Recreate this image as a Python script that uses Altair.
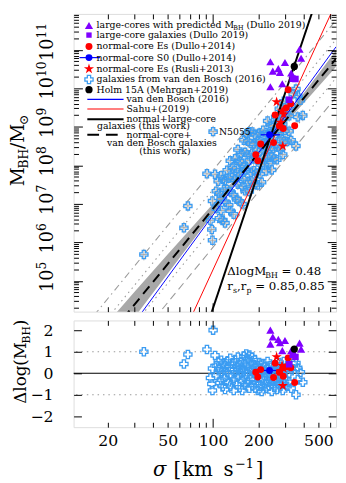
import math
import altair as alt
import pandas as pd

FONT = "DejaVu Serif"
SIG_MIN, SIG_MAX = 11.85, 655.0
LOGM_MIN, LOGM_MAX = 4.2, 11.93
RES_MIN, RES_MAX = -2.5, 2.45
W, H_TOP, H_BOT = 268, 304, 109

# ---------------- values ----------------
# relations:  log M = a + b * log(sigma/200)
rel_names = ["van den Bosch (2016)", "Sahu+(2019)", "normal+large-core", "normal-core+vdB"]
rel_a = [8.32, 7.85, 7.81, 8.31]
rel_b = [5.35, 8.49, 11.67, 4.77]
FIT_A, FIT_B = 8.31, 4.77          # normal-core + van den Bosch fit (residual reference)

band_sigma = [11.85, 20, 30, 50, 100, 150, 200, 300, 450, 655]
band_half = [0.49, 0.38, 0.33, 0.25, 0.13, 0.07, 0.05, 0.08, 0.15, 0.21]

off_dex = [0.5, -0.5, 1.0, -1.0]   # dotted +, dotted -, dash-dot +, dashed -

# galaxies from van den Bosch (2016): sigma, residual about the fit
vdb_sigma = [34.7, 64, 68, 91, 100, 103, 99, 96, 98, 99,
             105, 105, 108, 110, 110, 113, 113, 113, 116, 116, 118,
             120, 120, 120, 124, 124, 127, 127, 130, 130, 130,
             134, 134, 137, 137, 140, 140, 143, 143, 146, 146, 146,
             150, 150, 153, 153, 156, 156, 156, 160, 160, 160,
             163, 163, 166, 166, 170, 170, 170, 174, 174, 174,
             178, 178, 182, 182, 182, 186, 186, 186, 190, 190,
             194, 194, 198, 198, 198, 202, 202, 206, 206, 206,
             210, 210, 215, 215, 220, 220, 220, 225, 225,
             230, 230, 230, 235, 235, 240, 240, 245, 245, 245,
             250, 250, 255, 255, 260, 260, 265, 265, 270, 270,
             275, 275, 280, 280, 285, 285, 290, 290, 295, 295,
             300, 300, 310, 310, 320, 320, 330, 330, 340, 355,
             355, 365, 365, 380, 394]
vdb_dlog = [1.0, 0.43, 0.87, 1.1, 2.0, 0.83, 0.22, -0.22, -0.5, -0.8,
            0.35, -0.1, 0.55, 0.2, -0.45, 0.6, 0.0, -0.3, 0.45, -0.6, 0.15,
            0.35, -0.2, -0.75, 0.55, 0.05, -0.4, 0.3, 0.7, -0.1, -0.6,
            0.2, 0.45, -0.3, -0.8, 0.6, 0.05, -0.5, 0.3, 0.15, -0.15, 0.75,
            0.4, -0.65, 0.0, 0.55, -0.35, 0.25, -0.8, 0.8, 0.1, -0.2,
            0.45, -0.55, 0.9, -0.05, 0.3, -0.4, 0.65, 0.1, -0.7, 0.85,
            -0.25, 0.5, 0.2, -0.55, 0.75, 0.0, -0.3, 0.4, -0.7, 0.6,
            0.15, -0.45, 0.35, -0.15, -0.8, 0.5, 0.0, -0.35, 0.25, -0.6,
            0.1, -0.85, 0.45, -0.25, -0.5, 0.05, 0.3, -0.1, -0.7,
            0.2, -0.4, 0.55, 0.0, -0.6, 0.35, -0.25, -0.5, 0.1, -0.85,
            0.25, -0.35, -0.05, -0.65, 0.4, -0.3, 0.0, -0.75, 0.2, -0.45,
            -0.15, 0.5, -0.6, 0.1, 0.3, -0.35, -0.8, 0.0, 0.55, -0.5,
            0.15, -0.25, 0.35, -0.6, 0.0, -0.4, 0.2, -0.7, 0.45, -1.0,
            0.48, 0.25, -0.3, 0.05, -0.42]

nce_sigma = [192, 198, 207, 252, 258, 292, 315, 306, 328, 348, 275]   # normal-core Es (Dullo+2014)
nce_dlog = [0.05, -0.17, 0.17, -0.2, 0.47, -0.14, 0.71, 0.3, 0.26, -0.43, 0.05]
s0_sigma, s0_dlog, s0_lo, s0_hi = [237], [0.13], [207], [278]         # normal-core S0
rus_sigma = [264, 287, 294, 290, 281]                                  # Rusli+2013
rus_dlog = [0.76, 0.35, 0.22, -0.58, 0.1]
lcp_sigma = [240, 249, 271, 300, 278, 240, 288, 330, 375, 384]         # large-cores predicted
lcp_dlog = [2.0, 1.68, 1.57, 1.52, 1.42, 1.35, 1.05, 1.05, 1.40, 1.12]
lcg_sigma = [338, 352, 320]                                            # large-core galaxies
lcg_dlog = [0.85, 0.76, 0.42]
holm_sigma, holm_dlog = [346], [1.12]                                  # Holm 15A

ERR_M, ERR_S = 0.15, 0.03   # typical error bars (dex)

# ---------------- helpers ----------------
xs = alt.Scale(type="log", domain=[SIG_MIN, SIG_MAX], nice=False)
yts = alt.Scale(domain=[LOGM_MIN, LOGM_MAX], nice=False, zero=False)
ybs = alt.Scale(domain=[RES_MIN, RES_MAX], nice=False, zero=False)
FIT = f"{FIT_A} + {FIT_B}*log(datum.s/200)/LN10"
STAR = "M0,-1L0.2245,-0.309L0.951,-0.309L0.363,0.118L0.588,0.809L0,0.382L-0.588,0.809L-0.363,0.118L-0.951,-0.309L-0.2245,-0.309Z"
ONE = pd.DataFrame({"k": [0]})

C_VDB = "#3b9cf2"; C_PUR = "#8000ff"; C_RED = "#ff0000"; C_BLU = "#0000ff"; C_ERR = "#a3a3a3"


class Pool:
    def __init__(self, items):
        self.items = list(items)

    def get(self):
        return self.items.pop(0) if self.items else None


def tick_axis(orient, values, size):
    return alt.Axis(orient=orient, values=values, tickSize=size, offset=-size, domain=False,
                    labels=False, grid=False, ticks=True, title=None, tickColor="black",
                    tickWidth=1, zindex=5)


X_MAJ = [100]
X_MIN = [20, 30, 40, 50, 60, 70, 80, 90, 200, 300, 400, 500, 600]
YT_MAJ = [5, 6, 7, 8, 9, 10, 11]
YT_MIN = [round(n + math.log10(k), 4) for n in range(4, 12) for k in range(2, 10)
          if LOGM_MIN < n + math.log10(k) < LOGM_MAX]
YB_MAJ = [-2, -1, 0, 1, 2]


def pts(sig, dl):
    return pd.DataFrame({"s": sig, "d": dl})


def X(field, pool):
    return alt.X(field, type="quantitative", scale=xs, axis=pool.get(), title=None)


def Y(field, scale, pool):
    return alt.Y(field, type="quantitative", scale=scale, axis=pool.get(), title=None)


def ptext(items, size, **kw):
    df = pd.DataFrame(items, columns=["tx", "ty", "t"])
    opts = dict(font=FONT, fontSize=size, align="left", baseline="middle", color="black")
    opts.update(kw)
    return alt.Chart(df).mark_text(**opts).encode(
        x=alt.X("tx:Q", scale=None, axis=None), y=alt.Y("ty:Q", scale=None, axis=None), text="t:N")


def psym(tx, ty, **kw):
    return alt.Chart(ONE).mark_point(**kw).encode(x=alt.value(tx), y=alt.value(ty))


def prule(x0, x1, y, **kw):
    return alt.Chart(ONE).mark_rule(**kw).encode(x=alt.value(x0), x2=alt.value(x1), y=alt.value(y))


# ---------------- top panel ----------------
px = Pool([tick_axis("bottom", X_MAJ, 9), tick_axis("bottom", X_MIN, 5),
           tick_axis("top", X_MAJ, 9), tick_axis("top", X_MIN, 5)])
py = Pool([tick_axis("left", YT_MAJ, 9), tick_axis("left", YT_MIN, 5),
           tick_axis("right", YT_MAJ, 9), tick_axis("right", YT_MIN, 5)])

top = []
band_df = pd.DataFrame({"s": band_sigma, "h": band_half})
top.append(alt.Chart(band_df).transform_calculate(c=FIT).transform_calculate(
    lo="datum.c - datum.h", hi="datum.c + datum.h").mark_area(color="#a8a8a8", clip=True).encode(
    x=X("s", px), y=Y("lo", yts, py), y2="hi:Q"))

dashes = [[1.5, 4], [1.5, 4], [7, 4, 1.5, 4], [8, 5]]
for o, dsh in zip(off_dex, dashes):
    df = pd.DataFrame({"s": [SIG_MIN, SIG_MAX], "o": [o, o]})
    top.append(alt.Chart(df).transform_calculate(m=FIT + " + datum.o").mark_line(
        color="#9b9b9b", strokeWidth=1.1, strokeDash=dsh, clip=True).encode(
        x=X("s", px), y=Y("m", yts, py)))

vdb = pts(vdb_sigma, vdb_dlog)
vdb_m = alt.Chart(vdb).transform_calculate(m=FIT + " + datum.d").transform_calculate(
    s1=f"datum.s*pow(10,-{ERR_S})", s2=f"datum.s*pow(10,{ERR_S})",
    m1=f"datum.m-{ERR_M}", m2=f"datum.m+{ERR_M}")
top.append(vdb_m.mark_rule(color=C_ERR, strokeWidth=0.9).encode(
    x=X("s1", px), x2="s2:Q", y=Y("m", yts, py)))
top.append(vdb_m.mark_rule(color=C_ERR, strokeWidth=0.9).encode(
    x=X("s", px), y=Y("m1", yts, py), y2="m2:Q"))
top.append(vdb_m.mark_point(shape="cross", size=70, filled=False, color=C_VDB,
                            strokeWidth=1.3, opacity=1).encode(x=X("s", px), y=Y("m", yts, py)))

rel_style = [dict(color=C_BLU, strokeWidth=1), dict(color=C_RED, strokeWidth=1),
             dict(color="black", strokeWidth=2), dict(color="black", strokeWidth=2, strokeDash=[10, 6])]
for a, b, st in zip(rel_a, rel_b, rel_style):
    df = pd.DataFrame({"s": [SIG_MIN, SIG_MAX], "a": [a, a], "b": [b, b]})
    top.append(alt.Chart(df).transform_calculate(m="datum.a + datum.b*log(datum.s/200)/LN10").mark_line(
        clip=True, **st).encode(x=X("s", px), y=Y("m", yts, py)))


def top_points(sig, dl, **kw):
    return alt.Chart(pts(sig, dl)).transform_calculate(m=FIT + " + datum.d").mark_point(
        opacity=1, **kw).encode(x=X("s", px), y=Y("m", yts, py))


s0_df = pd.DataFrame({"s": s0_sigma, "d": s0_dlog, "lo": s0_lo, "hi": s0_hi})
top.append(alt.Chart(s0_df).transform_calculate(m=FIT + " + datum.d").mark_rule(
    color=C_BLU, strokeWidth=1.2).encode(x=X("lo", px), x2="hi:Q", y=Y("m", yts, py)))
top.append(top_points(nce_sigma, nce_dlog, shape="circle", filled=True, size=50, color=C_RED))
top.append(top_points(rus_sigma, rus_dlog, shape=STAR, filled=True, size=120, color=C_RED))
top.append(top_points(s0_sigma, s0_dlog, shape="circle", filled=True, size=50, color=C_BLU))
top.append(top_points(lcp_sigma, lcp_dlog, shape="triangle-up", filled=True, size=70, color=C_PUR))
top.append(top_points(lcg_sigma, lcg_dlog, shape="square", filled=True, size=45, color=C_PUR))
top.append(alt.Chart(pts(holm_sigma, holm_dlog)).transform_calculate(m=FIT + " + datum.d").transform_calculate(
    m1="datum.m-0.12", m2="datum.m+0.12").mark_rule(color="black", strokeWidth=1.2).encode(
    x=X("s", px), y=Y("m1", yts, py), y2="m2:Q"))
top.append(top_points(holm_sigma, holm_dlog, shape="circle", filled=True, size=55, color="black"))

# N5055 label
top.append(alt.Chart(pts([100], [2.0])).transform_calculate(m=FIT + " + datum.d").mark_text(
    font=FONT, fontSize=9.5, align="left", baseline="middle", dx=6, text="N5055").encode(
    x=X("s", px), y=Y("m", yts, py)))

# y tick labels (10^n), rotated
ylab = pd.DataFrame({"v": YT_MAJ, "e": [str(v) for v in YT_MAJ]})
top.append(alt.Chart(ylab).mark_text(font=FONT, fontSize=18, angle=270, align="center",
                                     baseline="alphabetic", text="10").encode(
    x=alt.value(-21), y=alt.Y("v:Q", scale=yts, axis=None)))
top.append(alt.Chart(ylab).mark_text(font=FONT, fontSize=12.5, angle=270, align="left",
                                     baseline="alphabetic", dx=11.5).encode(
    x=alt.value(-28), y=alt.Y("v:Q", scale=yts, axis=None), text="e:N"))

# y title  M_BH / M_sun (rotated)
top.append(ptext([(-51, 176, "M"), (-51, 137.9, "/M")], 19, angle=270, baseline="alphabetic"))
top.append(ptext([(-47, 157.9, "BH"), (-47, 113.4, "⊙")], 12.5, angle=270, baseline="alphabetic"))

# legend
R = [11.8, 21.6, 33.2, 44.6, 56.1, 66.9, 77.4, 87.3, 97.1, 107.5, 114.1, 123.3, 131.5, 139.7]
SX, TX, L0, L1, LT = 15.7, 23.5, 14, 51, 54
top.append(psym(SX, R[0], shape="triangle-up", filled=True, size=70, color=C_PUR, opacity=1))
top.append(psym(SX, R[1], shape="square", filled=True, size=30, color=C_PUR, opacity=1))
top.append(psym(SX, R[2], shape="circle", filled=True, size=50, color=C_RED, opacity=1))
top.append(prule(6, 27, R[3], color=C_BLU, strokeWidth=1.2))
top.append(psym(SX, R[3], shape="circle", filled=True, size=50, color=C_BLU, opacity=1))
top.append(psym(SX, R[4], shape=STAR, filled=True, size=120, color=C_RED, opacity=1))
top.append(psym(SX, R[5], shape="cross", filled=False, size=70, color=C_VDB, strokeWidth=1.3, opacity=1))
top.append(psym(SX, R[6], shape="circle", filled=True, size=55, color="black", opacity=1))
top.append(prule(L0, L1, R[7], color=C_BLU, strokeWidth=1.2))
top.append(prule(L0, L1, R[8], color=C_RED, strokeWidth=1.2))
top.append(prule(L0, L1, R[9], color="black", strokeWidth=2))
top.append(prule(L0, L1, R[11], color="black", strokeWidth=2, strokeDash=[12, 7]))

top.append(ptext([
    (TX, R[0], "large-cores with predicted M"),
    (176.5, R[0], "(Dullo 2019)"),
    (TX, R[1], "large-core galaxies (Dullo 2019)"),
    (TX, R[2], "normal-core Es (Dullo+2014)"),
    (TX, R[3], "normal-core S0 (Dullo+2014)"),
    (TX, R[4], "normal-core Es (Rusli+2013)"),
    (TX, R[5], "galaxies from van den Bosch (2016)"),
    (TX, R[6], "Holm 15A (Mehrgan+2019)"),
    (LT, R[7], "van den Bosch (2016)"),
    (LT, R[8], "Sahu+(2019)"),
    (LT, R[9], "normal+large-core"),
    (24, R[10], "galaxies (this work)"),
    (LT, R[11], "normal-core+"),
    (34, R[12], "van den Bosch galaxies"),
    (67, R[13], "(this work)"),
], 9.5))
top.append(ptext([(163.1, R[0] + 2.5, "BH")], 6.5))

# statistics text
top.append(ptext([(157, 266.6, "ΔlogM"), (212.4, 266.6, "= 0.48"),
                  (157, 282.4, "r"), (166.9, 282.4, ",r"), (185.4, 282.4, "= 0.85,0.85")],
                 12, baseline="alphabetic"))
top.append(ptext([(195.8, 269.6, "BH"), (162.8, 285.4, "s"), (176.5, 285.4, "p")], 8,
                 baseline="alphabetic"))

top_chart = alt.layer(*top).resolve_axis(x="independent", y="independent").properties(
    width=W, height=H_TOP)

# ---------------- bottom panel ----------------
xlab_axis = alt.Axis(orient="bottom", values=[20, 50, 100, 200, 500], ticks=False, tickSize=0,
                     domain=False, grid=False, title=None, labelFont=FONT, labelFontSize=16,
                     labelColor="black", labelPadding=6, format="d", labelFlush=False,
                     labelOverlap=False, zindex=5)
ylab_axis = alt.Axis(orient="left", values=YB_MAJ, ticks=False, tickSize=0, domain=False,
                     grid=False, title=None, labelFont=FONT, labelFontSize=16, labelColor="black",
                     labelPadding=21, format="d", zindex=5)
qx = Pool([xlab_axis, tick_axis("bottom", X_MAJ, 9), tick_axis("bottom", X_MIN, 5),
           tick_axis("top", X_MAJ, 9), tick_axis("top", X_MIN, 5)])
qy = Pool([ylab_axis, tick_axis("left", YB_MAJ, 8), tick_axis("right", YB_MAJ, 8)])

bot = []
bot.append(alt.Chart(pd.DataFrame({"v": [1, -1]})).mark_rule(
    color="#9b9b9b", strokeWidth=1.1, strokeDash=[1.5, 4]).encode(y=Y("v", ybs, qy)))
bot.append(alt.Chart(pd.DataFrame({"v": [0]})).mark_rule(color="black", strokeWidth=1.2).encode(
    y=Y("v", ybs, qy)))


def bot_points(sig, dl, **kw):
    return alt.Chart(pts(sig, dl)).mark_point(opacity=1, **kw).encode(
        x=X("s", qx), y=Y("d", ybs, qy))


bot.append(bot_points(vdb_sigma, vdb_dlog, shape="cross", size=70, filled=False, color=C_VDB,
                      strokeWidth=1.3))
bot.append(alt.Chart(s0_df).mark_rule(color=C_BLU, strokeWidth=1.2).encode(
    x=X("lo", qx), x2="hi:Q", y=Y("d", ybs, qy)))
bot.append(bot_points(nce_sigma, nce_dlog, shape="circle", filled=True, size=50, color=C_RED))
bot.append(bot_points(rus_sigma, rus_dlog, shape=STAR, filled=True, size=120, color=C_RED))
bot.append(bot_points(s0_sigma, s0_dlog, shape="circle", filled=True, size=50, color=C_BLU))
bot.append(bot_points(lcp_sigma, lcp_dlog, shape="triangle-up", filled=True, size=70, color=C_PUR))
bot.append(bot_points(lcg_sigma, lcg_dlog, shape="square", filled=True, size=45, color=C_PUR))
bot.append(alt.Chart(pts(holm_sigma, holm_dlog)).transform_calculate(
    d1="datum.d-0.12", d2="datum.d+0.12").mark_rule(color="black", strokeWidth=1.2).encode(
    x=X("s", qx), y=Y("d1", ybs, qy), y2="d2:Q"))
bot.append(bot_points(holm_sigma, holm_dlog, shape="circle", filled=True, size=55, color="black"))

# y title  Δlog(M_BH)
bot.append(ptext([(-49, 85, "Δlog(M"), (-49, 5.9, ")")], 17, angle=270, baseline="alphabetic"))
bot.append(ptext([(-45, 23.5, "BH")], 11, angle=270, baseline="alphabetic"))
# x title  σ [km s^-1]
bot.append(ptext([(81, 159, "σ")], 20, baseline="alphabetic", fontStyle="italic"))
bot.append(ptext([(102, 159, "["), (111, 159, "km"), (153, 159, "s"), (186, 159, "]")], 20,
                 baseline="alphabetic"))
bot.append(ptext([(165, 151, "−1")], 13, baseline="alphabetic"))

bot_chart = alt.layer(*bot).resolve_axis(x="independent", y="independent").properties(
    width=W, height=H_BOT)

chart = alt.vconcat(top_chart, bot_chart, spacing=6).properties(
    padding={"left": 0, "top": 0, "right": 0, "bottom": 0}
).configure_view(stroke="black", strokeWidth=1.3).configure(font=FONT)

chart.save("out.html", embed_options={"renderer": "svg", "actions": False})
